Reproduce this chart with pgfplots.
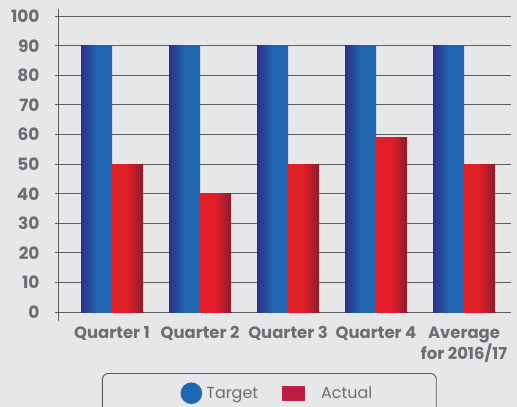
\documentclass[border=0pt]{standalone}
\usepackage{pgfplots}
\pgfplotsset{compat=1.18}
\usepackage{fontspec}
\setmainfont{Poppins}
\definecolor{bg}{HTML}{E6E7E8}
\definecolor{gridc}{HTML}{5E5F61}
\definecolor{labc}{HTML}{6D6E71}
\definecolor{bnavy}{HTML}{2B3088}
\definecolor{bblue}{HTML}{2166B1}
\definecolor{rred}{HTML}{E01E26}
\definecolor{rdark}{HTML}{8A1C30}
\definecolor{legblue}{HTML}{1F67B1}
\definecolor{legred}{HTML}{BC1E41}
\definecolor{legbox}{HTML}{58595B}
\pgfdeclarehorizontalshading{bluebar}{100bp}{color(0bp)=(bnavy); color(25bp)=(bnavy); color(50bp)=(bblue); color(100bp)=(bblue)}
\pgfdeclarehorizontalshading{redbar}{100bp}{color(0bp)=(rred); color(25bp)=(rred); color(50bp)=(rred); color(75bp)=(rdark); color(100bp)=(rdark)}
\pgfplotsset{
  tgt/.style={ybar, bar width=31bp, bar shift=-15.5bp, draw=none, /tikz/shading=bluebar, forget plot},
  act/.style={ybar, bar width=31bp, bar shift=15.5bp, draw=none, /tikz/shading=redbar, forget plot},
}
\begin{document}
\begin{tikzpicture}
\fill[bg] (0,0) rectangle (517bp,407bp);
\useasboundingbox (0,0) rectangle (517bp,407bp);
\begin{axis}[
  at={(58bp,86bp)}, anchor=south west,
  scale only axis, width=453bp, height=312bp,
  xmin=-0.614, xmax=4.534, ymin=-3, ymax=102.4,
  axis x line*=bottom, x axis line style={draw=none},
  axis y line*=left, y axis line style={-, draw=gridc, line width=0.9bp},
  xtick={0,1,2,3,4},
  xticklabels={Quarter 1, Quarter 2, Quarter 3, Quarter 4, {Average\\for 2016/17}},
  xtick style={draw=none},
  xticklabel style={font=\fontsize{16.5}{18}\selectfont\bfseries, text=labc, align=center, yshift=1bp},
  ytick={0,10,...,100},
  ymajorgrids, grid style={draw=gridc, line width=0.9bp},
  tick align=outside, major tick length=3bp,
  ytick style={draw=gridc, line width=0.9bp},
  yticklabel style={font=\fontsize{17}{17}\selectfont\bfseries, text=labc, xshift=-12bp},
  /pgf/number format/assume math mode=true,
  legend columns=2,
  legend style={at={(0.097,-0.1667)}, anchor=north west, draw=legbox, line width=0.9bp,
    rounded corners=6bp, fill=none, inner xsep=62bp, inner ysep=9bp,
    font=\fontsize{16}{16}\selectfont, text=labc,
    /tikz/every even column/.append style={column sep=22bp}},
]
% Target
\addplot[tgt] coordinates {(0,90)};
\addplot[tgt] coordinates {(1,90)};
\addplot[tgt] coordinates {(2,90)};
\addplot[tgt] coordinates {(3,90)};
\addplot[tgt] coordinates {(4,90)};
% Actual
\addplot[act] coordinates {(0,50)};
\addplot[act] coordinates {(1,40)};
\addplot[act] coordinates {(2,50)};
\addplot[act] coordinates {(3,59)};
\addplot[act] coordinates {(4,50)};
\addlegendimage{legend image code/.code={\path[draw=none] (-16bp,0) -- (24bp,0); \fill[legblue, draw=none] (11bp,0) circle (10.8bp);}}
\addlegendentry{Target}
\addlegendimage{legend image code/.code={\path[draw=none] (0,0) -- (37bp,0); \fill[legred, draw=none, sharp corners] (0,-7.5bp) rectangle (23bp,7.5bp);}}
\addlegendentry{Actual}
\end{axis}
\end{tikzpicture}
\end{document}
